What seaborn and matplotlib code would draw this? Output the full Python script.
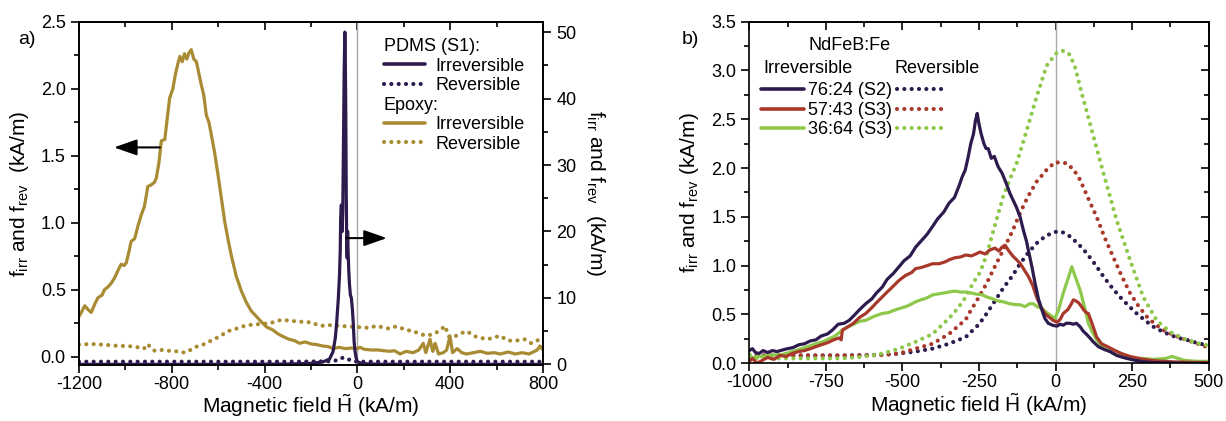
import matplotlib
matplotlib.use('Agg')
import matplotlib.pyplot as plt
from matplotlib.lines import Line2D
from matplotlib.ticker import MultipleLocator
import seaborn as sns

# ---------------- data: panel a) ----------------
epoxy_irr_x = [-1200, -1190, -1175, -1160, -1147, -1130, -1118, -1100, -1090, -1075,
               -1060, -1046, -1030, -1018, -1005, -996, -985, -975, -960, -945,
               -931, -918, -903, -890, -875, -867, -855, -845, -830, -818,
               -809, -795, -785, -773, -765, -755, -745, -735, -725, -716,
               -705, -694, -684, -673, -662, -651, -640, -630, -615, -601,
               -586, -572, -558, -544, -522, -500, -480, -457, -435, -414,
               -390, -365, -342, -320, -295, -271, -250, -225, -199, -175,
               -150, -125, -104, -80, -50, -25, 0, 11, 30, 60,
               90, 112, 140, 160, 184, 210, 240, 265, 284, 295,
               313, 325, 335, 350, 370, 385, 399, 410, 430, 450,
               471, 500, 530, 560, 590, 615, 650, 680, 710, 740,
               757, 775, 787, 800]
epoxy_irr_y = [0.30, 0.33, 0.38, 0.35, 0.33, 0.40, 0.44, 0.46, 0.50, 0.52,
               0.55, 0.59, 0.65, 0.69, 0.68, 0.70, 0.78, 0.86, 0.88, 0.98,
               1.06, 1.12, 1.27, 1.28, 1.30, 1.33, 1.45, 1.61, 1.62, 1.80,
               1.93, 2.00, 2.10, 2.19, 2.24, 2.20, 2.26, 2.22, 2.27, 2.29,
               2.22, 2.20, 2.12, 2.03, 1.95, 1.80, 1.75, 1.66, 1.52, 1.36,
               1.18, 1.01, 0.88, 0.76, 0.60, 0.49, 0.41, 0.34, 0.30, 0.26,
               0.22, 0.20, 0.17, 0.15, 0.13, 0.12, 0.10, 0.11, 0.095, 0.09,
               0.08, 0.075, 0.06, 0.07, 0.06, 0.065, 0.06, 0.07, 0.055, 0.05,
               0.05, 0.045, 0.04, 0.045, 0.02, 0.04, 0.03, 0.05, 0.10, 0.03,
               0.13, 0.04, 0.10, 0.02, 0.03, 0.05, 0.155, 0.03, 0.06, 0.03,
               0.02, 0.03, 0.04, 0.025, 0.03, 0.02, 0.035, 0.02, 0.03, 0.02,
               0.035, 0.05, 0.08, 0.05]

epoxy_rev_x = [-1200, -1150, -1100, -1060, -1032, -990, -946, -920, -903, -888,
               -874, -850, -830, -816, -790, -770, -745, -720, -702, -665,
               -630, -595, -558, -520, -486, -450, -414, -380, -355, -328,
               -300, -271, -235, -199, -161, -120, -75, -40, 11, 50,
               83, 130, 169, 210, 241, 270, 298, 330, 360, 377,
               395, 413, 440, 471, 510, 557, 585, 614, 650, 686,
               720, 750, 787, 800]
epoxy_rev_y = [0.09, 0.095, 0.09, 0.085, 0.08, 0.08, 0.07, 0.06, 0.094, 0.06,
               0.045, 0.05, 0.05, 0.045, 0.04, 0.04, 0.03, 0.05, 0.07, 0.09,
               0.12, 0.15, 0.19, 0.21, 0.23, 0.24, 0.243, 0.25, 0.26, 0.275,
               0.27, 0.265, 0.26, 0.256, 0.23, 0.235, 0.23, 0.225, 0.22, 0.215,
               0.23, 0.21, 0.226, 0.20, 0.19, 0.17, 0.156, 0.17, 0.20, 0.23,
               0.15, 0.144, 0.17, 0.19, 0.15, 0.13, 0.14, 0.156, 0.12, 0.12,
               0.13, 0.10, 0.13, 0.12]

pdms_irr_x = [-1200, -600, -300, -200, -150, -120, -105, -95, -89, -82,
              -77, -74, -72, -69, -66, -63, -60, -57, -54, -52,
              -50, -48, -46, -44, -42, -40, -37, -34, -30, -26,
              -22, -18, -14, -10, -5, 0, 20, 100, 800]
pdms_irr_y = [0.0, 0.0, 0.05, 0.15, 0.35, 0.8, 1.9, 4.0, 6.4, 10.0,
              13.5, 17, 22, 24, 20, 23, 33, 44, 50, 46,
              38, 26, 18, 16, 20, 17, 14, 12, 10.4, 10,
              8.5, 6.4, 3.4, 1.9, 0.9, 0.4, 0.1, 0.02, 0.0]

pdms_rev_x = [-1200, -300, -120, -90, -75, -60, -50, -40, -25, 0, 800]
pdms_rev_y = [0.4, 0.4, 0.45, 0.6, 0.9, 1.0, 1.0, 0.8, 0.5, 0.4, 0.4]

# ---------------- data: panel b) ----------------
s76_irr_x = [-1000, -990, -980, -968, -955, -940, -925, -910, -892, -875,
             -858, -838, -820, -800, -783, -765, -745, -729, -710, -690,
             -674, -655, -640, -620, -600, -585, -566, -550, -530, -511,
             -495, -475, -457, -440, -420, -402, -385, -365, -348, -330,
             -315, -305, -295, -285, -277, -268, -262, -256, -250, -243,
             -234, -227, -220, -210, -200, -192, -187, -175, -162, -149,
             -140, -128, -116, -104, -95, -89, -78, -67, -56, -45,
             -35, -24, -10, 4, 15, 25, 35, 47, 58, 68,
             80, 90, 100, 112, 123, 140, 160, 178, 200, 215,
             232, 260, 286, 320, 360, 420, 500]
s76_irr_y = [0.13, 0.15, 0.11, 0.10, 0.13, 0.11, 0.13, 0.12, 0.136, 0.15,
             0.16, 0.19, 0.20, 0.23, 0.24, 0.28, 0.30, 0.34, 0.40, 0.41,
             0.44, 0.50, 0.55, 0.61, 0.66, 0.72, 0.78, 0.86, 0.92, 0.99,
             1.05, 1.10, 1.19, 1.25, 1.32, 1.40, 1.48, 1.55, 1.64, 1.70,
             1.82, 1.91, 1.98, 2.12, 2.25, 2.35, 2.48, 2.56, 2.45, 2.35,
             2.25, 2.20, 2.20, 2.10, 2.12, 2.05, 2.01, 1.95, 1.85, 1.74,
             1.68, 1.60, 1.50, 1.35, 1.25, 1.16, 1.00, 0.82, 0.66, 0.55,
             0.46, 0.41, 0.39, 0.38, 0.40, 0.39, 0.41, 0.41, 0.40, 0.41,
             0.375, 0.33, 0.30, 0.26, 0.22, 0.17, 0.14, 0.12, 0.08, 0.065,
             0.05, 0.03, 0.016, 0.008, 0.004, 0.0, 0.0]

s57_irr_x = [-1000, -990, -975, -958, -940, -920, -900, -880, -860, -840,
             -820, -800, -783, -765, -745, -725, -707, -700, -696, -680,
             -660, -640, -620, -600, -585, -566, -550, -530, -511, -490,
             -470, -457, -440, -420, -402, -380, -360, -348, -330, -310,
             -293, -275, -260, -247, -230, -215, -198, -185, -175, -165,
             -150, -140, -127, -115, -105, -89, -75, -62, -50, -35,
             -20, -8, 5, 15, 25, 40, 50, 58, 66, 75,
             85, 91, 100, 107, 120, 134, 150, 170, 188, 215,
             243, 280, 319, 380, 440, 500]
s57_irr_y = [0.02, 0.05, 0.00, 0.03, 0.06, 0.04, 0.08, 0.07, 0.10, 0.12,
             0.13, 0.15, 0.17, 0.19, 0.21, 0.24, 0.26, 0.24, 0.34, 0.37,
             0.41, 0.47, 0.51, 0.57, 0.62, 0.68, 0.73, 0.79, 0.85, 0.90,
             0.93, 0.97, 0.98, 1.00, 1.02, 1.02, 1.04, 1.06, 1.08, 1.09,
             1.11, 1.10, 1.12, 1.14, 1.12, 1.16, 1.18, 1.15, 1.19, 1.21,
             1.14, 1.10, 1.06, 1.02, 0.97, 0.89, 0.80, 0.68, 0.59, 0.51,
             0.47, 0.44, 0.42, 0.45, 0.51, 0.55, 0.60, 0.65, 0.64, 0.62,
             0.58, 0.55, 0.52, 0.51, 0.40, 0.27, 0.20, 0.17, 0.14, 0.10,
             0.07, 0.045, 0.027, 0.015, 0.01, 0.007]

s36_irr_x = [-1000, -990, -975, -958, -940, -920, -892, -870, -850, -830,
             -810, -783, -760, -740, -720, -696, -680, -660, -640, -620,
             -600, -585, -566, -545, -530, -511, -490, -475, -457, -440,
             -420, -402, -385, -365, -348, -330, -310, -293, -275, -260,
             -239, -225, -205, -190, -171, -150, -130, -116, -100, -85,
             -73, -60, -45, -25, -2, 10, 25, 40, 53, 65,
             80, 95, 107, 120, 134, 160, 188, 215, 243, 280,
             320, 360, 380, 420, 460, 500]
s36_irr_y = [0.10, 0.05, 0.07, 0.07, 0.08, 0.085, 0.09, 0.11, 0.13, 0.15,
             0.17, 0.20, 0.22, 0.25, 0.28, 0.34, 0.37, 0.40, 0.43, 0.44,
             0.47, 0.49, 0.51, 0.52, 0.54, 0.56, 0.58, 0.60, 0.63, 0.65,
             0.67, 0.70, 0.71, 0.72, 0.73, 0.74, 0.73, 0.73, 0.72, 0.71,
             0.70, 0.68, 0.66, 0.64, 0.63, 0.61, 0.60, 0.60, 0.58, 0.61,
             0.61, 0.58, 0.56, 0.51, 0.46, 0.55, 0.72, 0.86, 0.99, 0.88,
             0.75, 0.57, 0.41, 0.32, 0.24, 0.15, 0.10, 0.07, 0.05, 0.05,
             0.04, 0.05, 0.07, 0.03, 0.02, 0.02]

s76_rev_x = [-1000, -900, -800, -700, -600, -550, -511, -457, -402, -348,
             -293, -250, -225, -200, -171, -140, -116, -90, -62, -30,
             4, 25, 47, 75, 101, 130, 156, 183, 210, 238,
             265, 292, 319, 346, 374, 400, 428, 460, 500]
s76_rev_y = [0.08, 0.08, 0.08, 0.08, 0.085, 0.09, 0.10, 0.12, 0.15, 0.20,
             0.27, 0.40, 0.51, 0.63, 0.77, 0.90, 1.02, 1.13, 1.23, 1.31,
             1.35, 1.34, 1.30, 1.22, 1.13, 1.01, 0.89, 0.78, 0.68, 0.59,
             0.51, 0.44, 0.375, 0.33, 0.29, 0.26, 0.24, 0.21, 0.18]

s57_rev_x = [-1000, -900, -800, -700, -600, -550, -511, -457, -402, -348,
             -293, -279, -250, -225, -200, -171, -140, -116, -90, -62,
             -30, -2, 36, 60, 80, 105, 134, 160, 188, 215,
             243, 270, 297, 325, 352, 385, 417, 455, 500]
s57_rev_y = [0.08, 0.08, 0.08, 0.08, 0.08, 0.09, 0.10, 0.15, 0.20, 0.30,
             0.45, 0.53, 0.68, 0.82, 0.98, 1.16, 1.36, 1.54, 1.71, 1.86,
             1.98, 2.06, 2.05, 1.98, 1.88, 1.70, 1.50, 1.29, 1.09, 0.90,
             0.72, 0.59, 0.48, 0.40, 0.34, 0.29, 0.25, 0.21, 0.16]

s36_rev_x = [-1000, -900, -800, -700, -650, -600, -566, -511, -457, -402,
             -348, -320, -293, -270, -247, -225, -203, -171, -150, -127,
             -94, -62, -29, 0, 15, 30, 47, 65, 80, 112,
             156, 199, 243, 286, 330, 374, 428, 460, 500]
s36_rev_y = [0.05, 0.05, 0.05, 0.05, 0.06, 0.08, 0.10, 0.15, 0.22, 0.30,
             0.46, 0.56, 0.68, 0.82, 0.93, 1.11, 1.36, 1.71, 1.88, 2.05,
             2.39, 2.73, 3.05, 3.17, 3.20, 3.20, 3.16, 3.02, 2.83, 2.46,
             1.95, 1.47, 1.06, 0.68, 0.44, 0.32, 0.24, 0.21, 0.18]

legend_a_labels = ['PDMS (S1):', 'Irreversible', 'Reversible',
                   'Epoxy:', 'Irreversible', 'Reversible']
legend_b_labels = ['76:24 (S2)', '57:43 (S3)', '36:64 (S3)']

# ---------------- style ----------------
C_PUR = '#2D1B4E'
C_GOLD = '#A88B33'
C_RED = '#A8392A'
C_GRN = '#8DC84B'
DOT = (0, (0.01, 1.75))
DOT_LW = 3.0

sns.set_style('ticks')
plt.rcParams['font.family'] = ['Liberation Sans', 'DejaVu Sans']
plt.rcParams['mathtext.default'] = 'regular'
plt.rcParams['axes.unicode_minus'] = False
plt.rcParams['axes.edgecolor'] = 'black'
plt.rcParams['axes.linewidth'] = 1.2
plt.rcParams['xtick.color'] = 'black'
plt.rcParams['ytick.color'] = 'black'
plt.rcParams['text.color'] = 'black'
plt.rcParams['axes.labelcolor'] = 'black'

TICK_FS = 13
LAB_FS = 15
LEG_FS = 13
XLAB = r'Magnetic field $\tilde{H}$ (kA/m)'
YLAB = r'f$_{irr}$ and f$_{rev}$  (kA/m)'


def draw(axis, x, y, color, dotted=False):
    kw = dict(x=x, y=y, ax=axis, color=color, estimator=None, sort=False,
              legend=False)
    if dotted:
        kw.update(linestyle=DOT, dash_capstyle='round', linewidth=DOT_LW)
    else:
        kw.update(linewidth=2.3)
    sns.lineplot(**kw)


def style_ticks(axis, which_axis, major, minor):
    loc = axis.xaxis if which_axis == 'x' else axis.yaxis
    loc.set_major_locator(MultipleLocator(major))
    loc.set_minor_locator(MultipleLocator(minor))


def inward(sec):
    sec.tick_params(which='both', direction='in', labeltop=False,
                    labelright=False, width=1.2)
    sec.tick_params(which='major', length=6)
    sec.tick_params(which='minor', length=3.5)


def outward(a):
    a.tick_params(which='both', direction='out', labelsize=TICK_FS, width=1.2)
    a.tick_params(which='major', length=6)
    a.tick_params(which='minor', length=3.5)
    a.tick_params(axis='x', which='both', pad=2)


fig = plt.figure(figsize=(12.26, 4.21), dpi=100)
ax = fig.add_axes([0.0644, 0.1330, 0.3785, 0.8159])
ax2 = ax.twinx()
bx = fig.add_axes([0.6112, 0.1371, 0.3747, 0.8114])

# ---------------- panel a ----------------
ax.axvline(0, color='#A8A8A8', lw=1.0, zorder=0.5)
draw(ax, epoxy_rev_x, epoxy_rev_y, C_GOLD, dotted=True)
draw(ax, epoxy_irr_x, epoxy_irr_y, C_GOLD)
draw(ax2, pdms_rev_x, pdms_rev_y, C_PUR, dotted=True)
draw(ax2, pdms_irr_x, pdms_irr_y, C_PUR)

ax.set_xlim(-1200, 800)
ax.set_ylim(-0.062, 2.5)
ax2.set_ylim(-0.1, 51.6)
style_ticks(ax, 'x', 400, 200)
style_ticks(ax, 'y', 0.5, 0.25)
style_ticks(ax2, 'y', 10, 5)
outward(ax)
outward(ax2)
ax.tick_params(top=False, right=False, which='both')
secx = ax.secondary_xaxis('top')
style_ticks(secx, 'x', 400, 200)
inward(secx)

ax.set_xlabel(XLAB, fontsize=LAB_FS, labelpad=-1)
ax.set_ylabel(YLAB, fontsize=LAB_FS, labelpad=7)
ax2.set_ylabel(YLAB, fontsize=LAB_FS, rotation=270, labelpad=22)
ax.set_zorder(ax2.get_zorder() - 1)
ax2.patch.set_visible(False)

arrow_kw = dict(arrowstyle='-|>,head_length=1.0,head_width=0.35',
                color='black', lw=1.5, mutation_scale=14, shrinkA=0, shrinkB=0)
ax.annotate('', xy=(-1049, 1.561), xytext=(-851, 1.561), arrowprops=arrow_kw)
ax2.annotate('', xy=(127, 19.0), xytext=(-49, 19.0), arrowprops=arrow_kw)

blank = Line2D([], [], color='none')
handles_a = [blank,
             Line2D([], [], color=C_PUR, lw=2.6),
             Line2D([], [], color=C_PUR, lw=DOT_LW, linestyle=DOT, dash_capstyle='round'),
             blank,
             Line2D([], [], color=C_GOLD, lw=2.6),
             Line2D([], [], color=C_GOLD, lw=DOT_LW, linestyle=DOT, dash_capstyle='round')]
HL, HP = 2.3, 0.55
leg_a = ax2.legend(handles_a, legend_a_labels, loc='upper left',
                   bbox_to_anchor=(0.657, 0.952), frameon=False,
                   handlelength=HL, handletextpad=HP, labelspacing=0.14,
                   borderpad=0, borderaxespad=0, fontsize=LEG_FS)
shift = (HL + HP) * LEG_FS * fig.dpi / 72.0
for i in (0, 3):
    leg_a.get_texts()[i].set_x(-shift)

fig.text(18 / 1226, 1 - 40 / 421, 'a)', fontsize=14, va='center')

# ---------------- panel b ----------------
bx.axvline(0, color='#A8A8A8', lw=1.0, zorder=0.5)
draw(bx, s76_rev_x, s76_rev_y, C_PUR, dotted=True)
draw(bx, s57_rev_x, s57_rev_y, C_RED, dotted=True)
draw(bx, s36_rev_x, s36_rev_y, C_GRN, dotted=True)
draw(bx, s36_irr_x, s36_irr_y, C_GRN)
draw(bx, s57_irr_x, s57_irr_y, C_RED)
draw(bx, s76_irr_x, s76_irr_y, C_PUR)

bx.set_xlim(-1000, 500)
bx.set_ylim(0, 3.5)
style_ticks(bx, 'x', 250, 125)
style_ticks(bx, 'y', 0.5, 0.25)
outward(bx)
bx.tick_params(which='both', top=False, right=False)
sbx = bx.secondary_xaxis('top')
style_ticks(sbx, 'x', 250, 125)
inward(sbx)
sby = bx.secondary_yaxis('right')
style_ticks(sby, 'y', 0.5, 0.25)
inward(sby)

bx.set_xlabel(XLAB, fontsize=LAB_FS, labelpad=0)
bx.set_ylabel(r'f$_{irr}$ and f$_{rev}$ (kA/m)', fontsize=LAB_FS, labelpad=7)

solid_b = [Line2D([], [], color=c, lw=2.6) for c in (C_PUR, C_RED, C_GRN)]
dot_b = [Line2D([], [], color=c, lw=DOT_LW, linestyle=DOT, dash_capstyle='round')
         for c in (C_PUR, C_RED, C_GRN)]
leg_b1 = bx.legend(solid_b, legend_b_labels, loc='upper left',
                   bbox_to_anchor=(0.0255, 0.822), frameon=False,
                   handlelength=2.4, handletextpad=0.22, labelspacing=0.13,
                   borderpad=0, borderaxespad=0, fontsize=LEG_FS)
bx.add_artist(leg_b1)
bx.legend(dot_b, ['', '', ''], loc='upper left',
          bbox_to_anchor=(0.322, 0.822), frameon=False,
          handlelength=2.5, handletextpad=0.0, labelspacing=0.13,
          borderpad=0, borderaxespad=0, fontsize=LEG_FS)
bx.text(0.128, 0.929, 'NdFeB:Fe', transform=bx.transAxes, fontsize=LEG_FS,
        va='center', ha='left')
bx.text(0.030, 0.864, 'Irreversible', transform=bx.transAxes, fontsize=LEG_FS,
        va='center', ha='left')
bx.text(0.317, 0.864, 'Reversible', transform=bx.transAxes, fontsize=LEG_FS,
        va='center', ha='left')

fig.text(682 / 1226, 1 - 40 / 421, 'b)', fontsize=14, va='center')

fig.savefig('out.png', dpi=100)
